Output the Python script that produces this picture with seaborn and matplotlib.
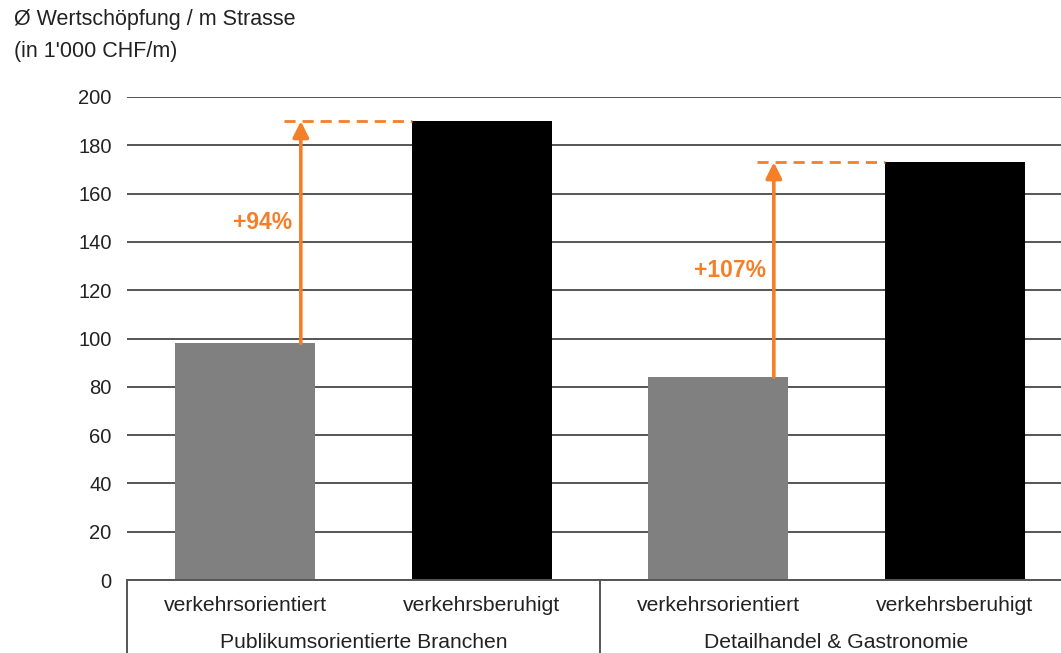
import pandas as pd
import seaborn as sns
import matplotlib.pyplot as plt
from matplotlib.transforms import blended_transform_factory

# data
groups = ["Publikumsorientierte Branchen", "Detailhandel & Gastronomie"]
conditions = ["verkehrsorientiert", "verkehrsberuhigt"]
values = [98, 190, 84, 173]
pct_labels = ["+94%", "+107%"]

ORANGE = "#F57F29"
GRID = "#555555"

sns.set_theme(style="white")
plt.rcParams['font.family'] = ['Liberation Sans', 'DejaVu Sans']

keys = [f"{g}|{c}" for g in groups for c in conditions]
df = pd.DataFrame({"key": keys, "value": values,
                   "cond": [c for _ in groups for c in conditions]})

fig = plt.figure(figsize=(10.61, 6.53), dpi=100)
ax = fig.add_axes([127 / 1061, 73 / 653, 946 / 1061, 483 / 653])

sns.barplot(data=df, x="key", y="value", hue="cond", order=keys,
            palette={"verkehrsorientiert": "#808080", "verkehrsberuhigt": "#000000"},
            width=0.59, dodge=False, legend=False, saturation=1, ax=ax, zorder=2,
            linewidth=0, edgecolor="none")

ax.set_xlim(-0.5, len(keys) - 0.5)
ax.set_ylim(0, 200)
ax.set_yticks(range(0, 201, 20))
ax.yaxis.grid(True, color=GRID, lw=1.4, zorder=0)
ax.set_axisbelow(True)
ax.tick_params(axis='y', length=0, pad=11, labelsize=14.5, labelcolor="#222222")
ax.set_xticks([])
ax.set_xlabel("")
ax.set_ylabel("")
for s in ["left", "right", "top"]:
    ax.spines[s].set_visible(False)
ax.spines["bottom"].set_color(GRID)
ax.spines["bottom"].set_linewidth(1.4)

# category table below the axis
trans = blended_transform_factory(ax.transData, ax.transAxes)
for i, k in enumerate(keys):
    ax.text(i, -0.052, k.split("|")[1], transform=trans, ha="center", va="center",
            fontsize=15.2, color="#222222")
for j, g in enumerate(groups):
    ax.text(j * 2 + 0.5, -0.130, g, transform=trans, ha="center", va="center",
            fontsize=15.2, color="#222222")
for xb in [-0.5, 1.5, 3.5]:
    ax.plot([xb, xb], [0, -0.25], transform=trans, color=GRID, lw=1.4, clip_on=False)

# arrows showing the increase
for j, lab in enumerate(pct_labels):
    low = values[j * 2]
    high = values[j * 2 + 1]
    xa = j * 2 + 0.235
    ax.annotate("", xy=(xa, high), xytext=(xa, low),
                arrowprops=dict(arrowstyle="-|>", color=ORANGE, lw=2.6,
                                mutation_scale=24, shrinkA=0, shrinkB=0),
                zorder=4)
    ax.plot([xa - 0.07, j * 2 + 1 - 0.295], [high, high], color=ORANGE, lw=2,
            linestyle=(0, (4, 2.5)), zorder=3)
    ax.text(xa - 0.035, [148, 128][j], lab, ha="right", va="center", fontsize=16.5,
            fontweight="bold", color=ORANGE, zorder=4)

fig.text(14 / 1061, 1 - 20 / 653, "Ø Wertschöpfung / m Strasse", ha="left", va="center",
         fontsize=15.5, color="#222222")
fig.text(14 / 1061, 1 - 52 / 653, "(in 1'000 CHF/m)", ha="left", va="center",
         fontsize=15.5, color="#222222")

fig.savefig("out.png", dpi=100)
